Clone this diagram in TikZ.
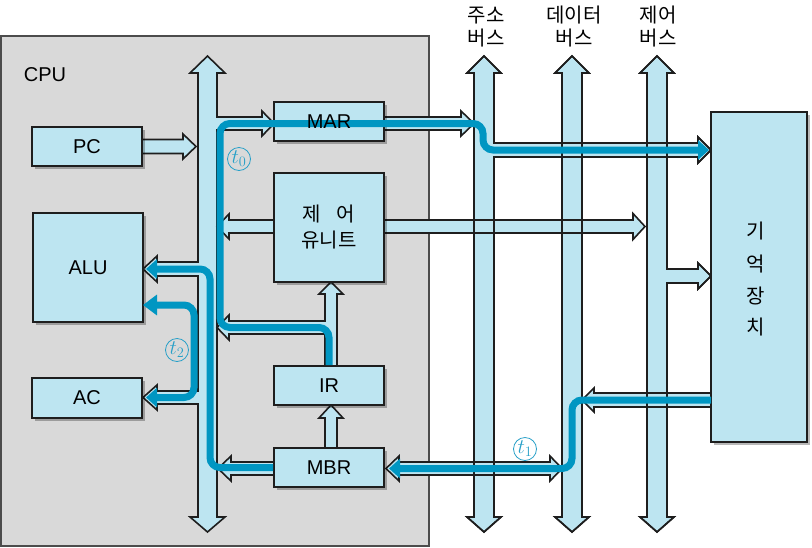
\documentclass[tikz,border=0pt]{standalone}
\usepackage{fontspec}
\setmainfont{Liberation Sans}
\newfontfamily\kr{Noto Sans CJK KR}
\usetikzlibrary{arrows.meta,shadows}
\definecolor{cpugray}{RGB}{217,217,217}
\definecolor{lblue}{RGB}{189,229,241}
\definecolor{pblue}{RGB}{0,150,194}
\definecolor{tblue}{RGB}{40,160,200}
\definecolor{edge}{RGB}{30,30,30}
\tikzset{
  ashape/.style={draw=edge,fill=lblue,line width=1.6pt,line join=miter},
  aline/.style={draw=edge,line width=1.6pt,line join=miter},
  box/.style={draw=edge,fill=lblue,line width=1.6pt,inner sep=0pt,
    drop shadow={shadow xshift=2.5pt,shadow yshift=-2.5pt,fill=black,opacity=0.28}},
  bpath/.style={draw=pblue,line width=7pt,rounded corners=10pt},
  tlabel/.style={circle,draw=tblue,line width=0.8pt,text=tblue,minimum size=23pt,inner sep=0pt,font=\fontsize{22}{22}\selectfont},
  txt/.style={font=\fontsize{20}{23}\selectfont,align=center},
  ktxt/.style={font=\kr\fontsize{20}{23}\selectfont,align=center}
}
\def\pDataBus{(572,56) -- (589,73) -- (582,73) -- (582,517) -- (589,517) -- (572,532) -- (555,517) -- (562,517) -- (562,73) -- (555,73) -- cycle}
\def\pCtrlBus{(657,56) -- (674,73) -- (667,73) -- (667,269) -- (698,269) -- (698,263) -- (711,276) -- (698,289) -- (698,283) -- (667,283) -- (667,517) -- (674,517) -- (657,532) -- (640,517) -- (647,517) -- (647,73) -- (640,73) -- cycle}
\def\pAddrBus{(484,56) -- (501,73) -- (494,73) -- (494,143) -- (698,143) -- (698,137) -- (711,150) -- (698,163) -- (698,157) -- (494,157) -- (494,517) -- (501,517) -- (484,532) -- (467,517) -- (474,517) -- (474,73) -- (467,73) -- cycle}
\begin{document}
\begin{tikzpicture}[x=1pt,y=-1pt]
\useasboundingbox[fill=white] (0,0) rectangle (812,547);
% CPU
\draw[fill=cpugray,draw=black!70,line width=1.6pt] (1,36) rectangle (429,546);
\node[txt] (cpu) at (45,75) {CPU};
% external buses
\draw[ashape] \pDataBus;
\draw[ashape] \pCtrlBus;
\draw[ashape] \pAddrBus;
% horizontal arrows crossing buses
\draw[ashape] (384,117) -- (461,117) -- (461,111) -- (474,123.5) -- (461,136) -- (461,130) -- (384,130) -- cycle;
\draw[ashape] (384,220) -- (633,220) -- (633,213.5) -- (645,226.5) -- (633,239.5) -- (633,233) -- (384,233) -- cycle;
\draw[ashape] (711,393) -- (594,393) -- (594,388) -- (582,400) -- (594,412) -- (594,407) -- (711,407) -- cycle;
\draw[ashape] (386,468.5) -- (399,456) -- (399,462) -- (550,462) -- (550,456) -- (562,468.5) -- (550,481) -- (550,475) -- (399,475) -- (399,481) -- cycle;
% redraw bus outlines at crossings
\draw[aline] \pDataBus;
\draw[aline] \pCtrlBus;
\draw[aline] \pAddrBus;
% internal bus
\draw[ashape] (207.5,56) -- (225,73) -- (217,73) -- (217,117) -- (262,117) -- (262,111) -- (274,123.5) -- (262,136) -- (262,130) -- (217,130) -- (217,517) -- (225,517) -- (207.5,532) -- (190,517) -- (198,517) -- (198,404) -- (157,404) -- (157,410) -- (143,397.5) -- (157,385) -- (157,391) -- (198,391) -- (198,276) -- (157,276) -- (157,282) -- (143,269) -- (157,256) -- (157,262) -- (198,262) -- (198,73) -- (190,73) -- cycle;
% internal arrows
\draw[ashape] (142,139.5) -- (183,139.5) -- (183,134) -- (196,146.5) -- (183,159) -- (183,153.5) -- (142,153.5) -- cycle;
\draw[ashape] (274,220) -- (229,220) -- (229,214) -- (217,226.5) -- (229,239) -- (229,233) -- (274,233) -- cycle;
\draw[ashape] (331,282) -- (343,294) -- (337,294) -- (337,366) -- (325,366) -- (325,334) -- (229,334) -- (229,340) -- (217,327.5) -- (229,315) -- (229,321) -- (325,321) -- (325,294) -- (319,294) -- cycle;
\draw[ashape] (325,448) -- (325,418) -- (319,418) -- (331,405) -- (343,418) -- (337,418) -- (337,448) -- cycle;
\draw[ashape] (274,462) -- (231,462) -- (231,456) -- (218,468.5) -- (231,481) -- (231,475) -- (274,475) -- cycle;
% boxes
\node[box,minimum width=110pt,minimum height=39pt] (mar) at (329,121.5) {};
\node[box,minimum width=110pt,minimum height=109pt] (cu) at (329,227.5) {};
\node[box,minimum width=110pt,minimum height=39pt] (ir) at (329,385.5) {};
\node[box,minimum width=110pt,minimum height=39pt] (mbr) at (329,467.5) {};
\node[box,minimum width=110pt,minimum height=39pt] (pc) at (87,146.5) {};
\node[box,minimum width=110pt,minimum height=109pt] (alu) at (88,267.5) {};
\node[box,minimum width=110pt,minimum height=40pt] (ac) at (87,398) {};
\node[box,minimum width=96pt,minimum height=330pt] (mem) at (759,277) {};
% data paths
\draw[bpath,-{Triangle[length=11pt,width=19pt]}] (ir.north) |- (220,327.5) |- (483,123.5) |- (709,150);
\draw[bpath,-{Triangle[length=11pt,width=19pt]}] (711,400) -| (572,468.5) -- (389,468.5);
\draw[bpath,-{Triangle[length=11pt,width=19pt]}] (mbr.west) -| (210,269) -- (146,269);
\draw[bpath,{Triangle[length=14pt,width=20pt]}-{Triangle[length=11pt,width=19pt]}] (143,305) -| (194,397.5) -- (146,397.5);
% texts
\node[txt] at (mar) {MAR};
\node[ktxt] at (cu) {제\hspace{16pt}어\\[3pt]유니트};
\node[txt] at (ir) {IR};
\node[txt] at (mbr) {MBR};
\node[txt] at (pc) {PC};
\node[txt] at (alu) {ALU};
\node[txt] at (ac) {AC};
\node[ktxt] (m1) at (756,231) {기};
\node[ktxt] (m2) at (756,264) {억};
\node[ktxt] (m3) at (756,296) {장};
\node[ktxt] (m4) at (756,327) {치};
\node[ktxt] (lab1) at (486,27) {주소\\버스};
\node[ktxt] (lab2) at (574,27) {데이터\\버스};
\node[ktxt] (lab3) at (658,27) {제어\\버스};
\node[tlabel] (t0) at (239,159) {$t_0$};
\node[tlabel] (t1) at (525,449) {$t_1$};
\node[tlabel] (t2) at (177,350) {$t_2$};
\end{tikzpicture}
\end{document}
